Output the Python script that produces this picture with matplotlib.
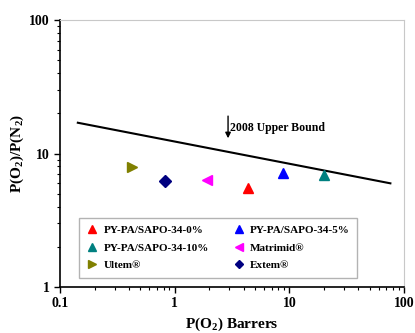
import numpy as np
import matplotlib.pyplot as plt
from matplotlib.ticker import LogLocator, NullFormatter

plt.rcParams['font.family'] = ['Liberation Serif', 'DejaVu Serif']
plt.rcParams['font.weight'] = 'bold'
plt.rcParams['mathtext.fontset'] = 'custom'
plt.rcParams['mathtext.rm'] = 'Liberation Serif:bold'
plt.rcParams['mathtext.bf'] = 'Liberation Serif:bold'

# membrane data: O2 permeability (Barrer) and O2/N2 selectivity
labels = ['PY-PA/SAPO-34-0%', 'PY-PA/SAPO-34-5%', 'PY-PA/SAPO-34-10%',
          'Matrimid®', 'Ultem®', 'Extem®']
perm = [4.35, 8.75, 20.2, 1.91, 0.425, 0.82]
selec = [5.49, 7.1, 6.87, 6.33, 7.96, 6.22]
markers = ['^', '^', '^', '<', '>', 'D']
colors = ['red', 'blue', '#008080', 'magenta', '#808000', '#000080']

# 2008 upper bound end points
bound_x = [0.143, 76.0]
bound_y = [17.0, 5.98]

fig = plt.figure(figsize=(4.15, 3.33), dpi=100)
ax = fig.add_axes([0.1446, 0.138, 0.829, 0.802])

ax.plot(bound_x, bound_y, color='black', lw=1.5)

handles = []
for lab, x, y, m, c in zip(labels, perm, selec, markers, colors):
    ms = 6 if m == 'D' else 7.5
    h, = ax.plot(x, y, linestyle='none', marker=m, color=c, ms=ms, label=lab)
    handles.append(h)

ax.annotate('', xy=(2.92, 12.4), xytext=(2.92, 20.0),
            arrowprops=dict(arrowstyle='-|>', color='black', lw=1, mutation_scale=8))
ax.text(3.05, 15.4, '2008 Upper Bound', fontsize=8.5, fontweight='bold', va='center')

ax.set_xscale('log')
ax.set_yscale('log')
ax.set_xlim(0.1, 100)
ax.set_ylim(1, 100)
ax.set_xticks([0.1, 1, 10, 100])
ax.set_xticklabels(['0.1', '1', '10', '100'])
ax.set_yticks([1, 10, 100])
ax.set_yticklabels(['1', '10', '100'])
ax.xaxis.set_minor_locator(LogLocator(base=10, subs=np.arange(2, 10)))
ax.yaxis.set_minor_locator(LogLocator(base=10, subs=np.arange(2, 10)))
ax.xaxis.set_minor_formatter(NullFormatter())
ax.yaxis.set_minor_formatter(NullFormatter())
ax.tick_params(which='major', direction='out', length=4, width=1, labelsize=10)
ax.tick_params(which='minor', direction='out', length=2, width=0.8)
ax.tick_params(top=False, right=False, which='both')
for s in ['top', 'right']:
    ax.spines[s].set_color('#c8c8c8')
for s in ['left', 'bottom']:
    ax.spines[s].set_linewidth(1.2)

ax.set_xlabel('P(O$_2$) Barrers', fontsize=11, fontweight='bold', labelpad=4)
ax.set_ylabel('P(O$_2$)/P(N$_2$)', fontsize=11, fontweight='bold', labelpad=2)

order = [0, 2, 4, 1, 3, 5]
leg = ax.legend([handles[i] for i in order], [labels[i] for i in order],
                ncol=2, loc='lower left', bbox_to_anchor=(0.055, 0.034),
                borderaxespad=0, markerscale=0.75,
                fontsize=8, frameon=True, fancybox=False, shadow=False,
                handlelength=1.0, handletextpad=0.5, columnspacing=2.2,
                borderpad=0.7, labelspacing=0.7)
leg.get_frame().set_edgecolor('#a0a0a0')
leg.get_frame().set_linewidth(1.0)

fig.savefig('out.png', dpi=100)
